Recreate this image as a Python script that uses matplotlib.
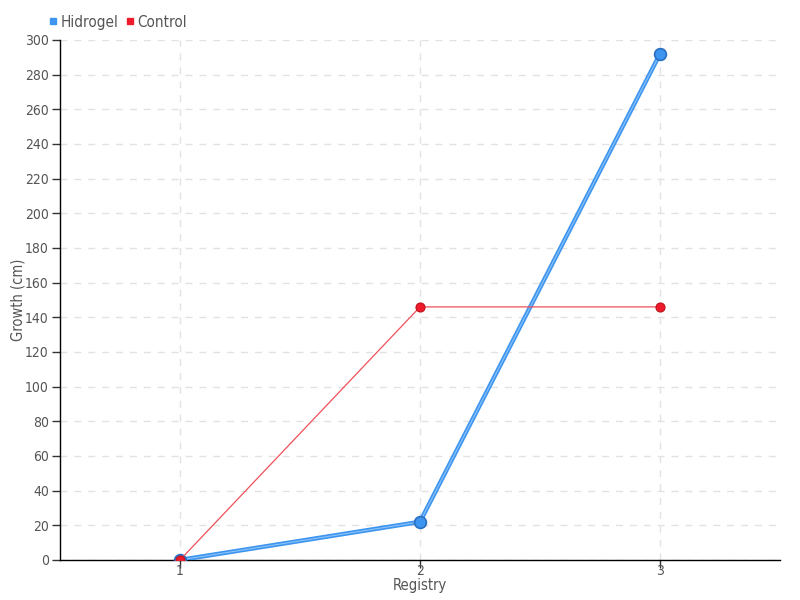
import matplotlib
matplotlib.use("Agg")
import matplotlib.pyplot as plt
from matplotlib.lines import Line2D

# Data
registry = [1, 2, 3]
hidrogel = [0, 22, 292]
control = [0, 146, 146]
yticks = list(range(0, 301, 20))

blue = "#3d95f0"
red = "#ee1c2b"
txt = "#555555"

plt.rcParams['font.family'] = ['DejaVu Sans']
plt.rcParams['font.stretch'] = 'condensed'

fig = plt.figure(figsize=(8, 6), dpi=100)
ax = fig.add_axes([0.075, 0.0667, 0.9, 0.8667])

# Hidrogel: thick blue line with lighter core
ax.plot(registry, hidrogel, color=blue, lw=3.2, solid_capstyle='round', zorder=3)
ax.plot(registry, hidrogel, color="#8cc3f7", lw=0.8, zorder=3.1)
ax.plot(registry, hidrogel, 'o', ms=8.5, mfc=blue, mec="#2a6fc0", mew=1.2, zorder=4)

# Control: thin red line
ax.plot(registry, control, color="#f0505a", lw=0.9, zorder=5)
ax.plot(registry, control, 'o', ms=6.5, mfc=red, mec="#c0101c", mew=0.8, zorder=6)

ax.set_xlim(0.5, 3.5)
ax.set_ylim(0, 300)
ax.set_xticks(registry)
ax.set_yticks(yticks)
ax.tick_params(axis='both', colors="#333333", labelcolor=txt, labelsize=10, length=6, width=1)
ax.tick_params(axis='x', pad=-3)
ax.tick_params(axis='y', pad=2)

ax.grid(True, color="#e2e2e2", linestyle=(0, (5, 5)), lw=1)
ax.set_axisbelow(True)
for s in ['top', 'right']:
    ax.spines[s].set_visible(False)
for s in ['left', 'bottom']:
    ax.spines[s].set_color("black")
    ax.spines[s].set_linewidth(1)

ax.set_xlabel("Registry", color=txt, fontsize=10.5, labelpad=0)
ax.set_ylabel("Growth (cm)", color=txt, fontsize=10.5, labelpad=0)

# Legend at top left
handles = [
    Line2D([], [], marker='s', ls='', color=blue, ms=4.5, label="Hidrogel"),
    Line2D([], [], marker='s', ls='', color=red, ms=4.5, label="Control"),
]
fig.legend(handles=handles, loc='center left', bbox_to_anchor=(0.061, 0.963),
           ncol=2, frameon=False, handlelength=0.6, handletextpad=0.15,
           columnspacing=0.5, borderpad=0, borderaxespad=0, labelcolor=txt,
           fontsize=11)

fig.savefig("out.png", dpi=100)
